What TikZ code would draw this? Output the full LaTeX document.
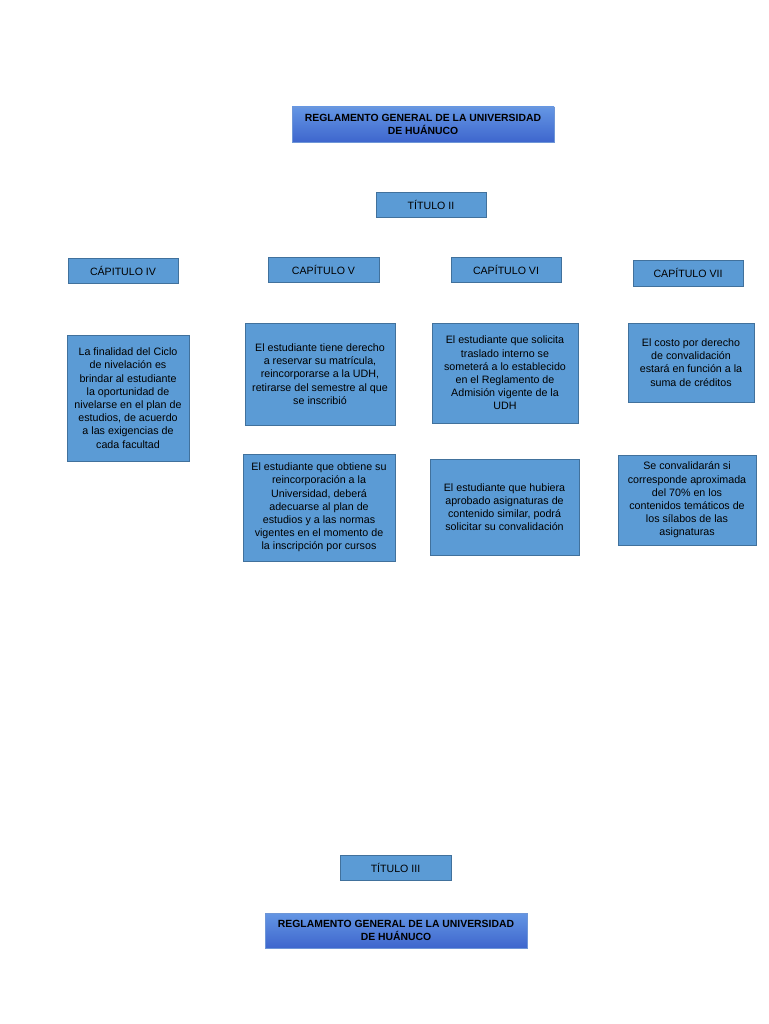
\documentclass[tikz,border=0pt]{standalone}
\usepackage{fontspec}
\setmainfont{Liberation Sans}
\begin{document}
\begin{tikzpicture}[x=1pt,y=-1pt,
  box/.style={draw=boxline, fill=boxfill, line width=0.9pt, inner sep=0pt, align=center,
    font=\fontsize{10.7}{13.2}\selectfont, text=black},
  capbox/.style={box, font=\fontsize{10.6}{12}\selectfont},
  ttl/.style={draw=ttlline, top color=ttltop, bottom color=ttlbot, line width=0.9pt, inner sep=0pt,
    align=center, font=\bfseries\fontsize{10.4}{13}\selectfont, text=black}]
\definecolor{boxfill}{RGB}{91,155,213}
\definecolor{boxline}{RGB}{65,113,156}
\definecolor{ttlline}{RGB}{110,150,215}
\definecolor{ttltop}{RGB}{100,150,228}
\definecolor{ttlbot}{RGB}{62,102,205}
\useasboundingbox (0,0) rectangle (768,1024);
\fill[white] (0,0) rectangle (768,1024);

\node[ttl, minimum width=262pt, minimum height=35pt] (t1) at (423,124.5) {REGLAMENTO GENERAL DE LA UNIVERSIDAD\\DE HUÁNUCO};
\node[capbox, minimum width=110pt, minimum height=25pt] (tii) at (431,204.5) {TÍTULO II};

\node[capbox, minimum width=110pt, minimum height=25pt] (c4) at (123,270.5) {CÁPITULO IV};
\node[capbox, minimum width=111pt, minimum height=25pt] (c5) at (323.5,269.5) {CAPÍTULO V};
\node[capbox, minimum width=110pt, minimum height=25pt] (c6) at (506,269.5) {CAPÍTULO VI};
\node[capbox, minimum width=110pt, minimum height=26pt] (c7) at (688,273) {CAPÍTULO VII};

\node[box, minimum width=122pt, minimum height=126pt] (b4) at (128,398) {La finalidad del Ciclo\\de nivelación es\\brindar al estudiante\\la oportunidad de\\nivelarse en el plan de\\estudios, de acuerdo\\a las exigencias de\\cada facultad};
\node[box, minimum width=150pt, minimum height=102pt] (b5a) at (320,374) {El estudiante tiene derecho\\a reservar su matrícula,\\reincorporarse a la UDH,\\retirarse del semestre al que\\se inscribió};
\node[box, minimum width=152pt, minimum height=107pt] (b5b) at (319,507.5) {El estudiante que obtiene su\\reincorporación a la\\Universidad, deberá\\adecuarse al plan de\\estudios y a las normas\\vigentes en el momento de\\la inscripción por cursos};
\node[box, minimum width=146pt, minimum height=100pt] (b6a) at (505,373) {El estudiante que solicita\\traslado interno se\\someterá a lo establecido\\en el Reglamento de\\Admisión vigente de la\\UDH};
\node[box, minimum width=149pt, minimum height=96pt] (b6b) at (504.5,507) {El estudiante que hubiera\\aprobado asignaturas de\\contenido similar, podrá\\solicitar su convalidación};
\node[box, minimum width=126pt, minimum height=79pt] (b7a) at (691,362.5) {El costo por derecho\\de convalidación\\estará en función a la\\suma de créditos};
\node[box, minimum width=138pt, minimum height=90pt] (b7b) at (687,500) {Se convalidarán si\\corresponde aproximada\\del 70\% en los\\contenidos temáticos de\\los sílabos de las\\asignaturas};

\node[capbox, minimum width=111pt, minimum height=25pt] (tiii) at (395.5,867.5) {TÍTULO III};
\node[ttl, minimum width=262pt, minimum height=35pt] (t2) at (396,930.5) {REGLAMENTO GENERAL DE LA UNIVERSIDAD\\DE HUÁNUCO};
\end{tikzpicture}
\end{document}
